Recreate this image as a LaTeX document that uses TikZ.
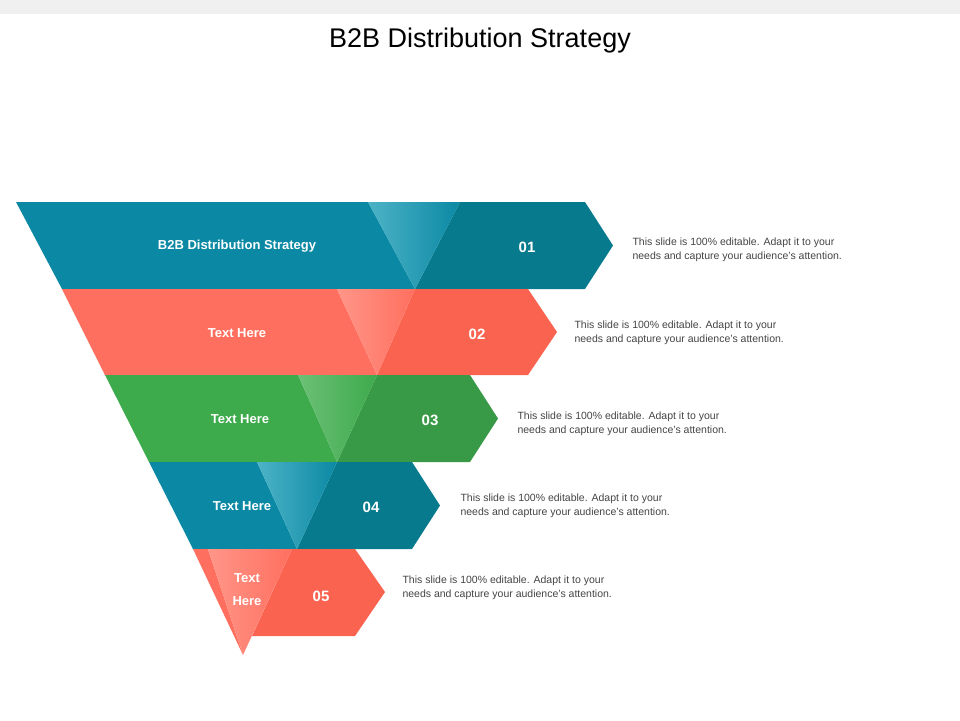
\documentclass[tikz,border=0pt]{standalone}
\usepackage{fontspec}
\setmainfont{Liberation Sans}
\definecolor{tealA}{HTML}{0B89A4}\definecolor{tealB}{HTML}{077A8E}\definecolor{tealC}{HTML}{4DB3C6}
\definecolor{coralA}{HTML}{FF6F5F}\definecolor{coralB}{HTML}{FA6350}\definecolor{coralC}{HTML}{FF9688}
\definecolor{greenA}{HTML}{3DAA4C}\definecolor{greenB}{HTML}{389A46}\definecolor{greenC}{HTML}{6CC076}
\definecolor{descgray}{HTML}{444444}
\tikzset{
  bandlabel/.style={text=white,font=\bfseries\fontsize{13}{15}\selectfont,align=center},
  numlabel/.style={text=white,font=\bfseries\fontsize{15}{17}\selectfont},
  desc/.style={text=descgray,font=\fontsize{10.5}{13.5}\selectfont,align=left,anchor=west}
}
\begin{document}
\begin{tikzpicture}[x=1pt,y=-1pt]
  \useasboundingbox (0,0) rectangle (960,720);
  \fill[gray!12] (0,0) rectangle (960,14);
  \node[font=\fontsize{27}{30}\selectfont] (title) at (480,41) {B2B Distribution Strategy};
  % bands: top, bottom, left top, left bottom, tri left, tri right, apex, arrow end, tip, colours
  \foreach \yt/\yb/\lt/\lb/\tl/\tr/\ax/\ae/\tp/\ca/\cb/\cc in {
      202/289/16/62/368/460/415/585/613/tealA/tealB/tealC,
      289/375/62/105/337/415/377/528/557/coralA/coralB/coralC,
      375/462/105/149/298/377/337/470/498/greenA/greenB/greenC,
      462/549/149/193/257/337/297/412/440/tealA/tealB/tealC}{
    \fill[\ca] (\lt,\yt) -- (\tl,\yt) -- (\ax,\yb) -- (\lb,\yb) -- cycle;
    \fill[\cb] (\tr,\yt) -- (\ae,\yt) -- (\tp,{(\yt+\yb)/2}) -- (\ae,\yb) -- (\ax,\yb) -- cycle;
    \shade[left color=\cc,right color=\ca] (\tl,\yt) -- (\tr,\yt) -- (\ax,\yb) -- cycle;
  }
  \fill[coralA] (193,549) -- (208,549) -- (243,655) -- cycle;
  \fill[coralB] (292,549) -- (355,549) -- (385,592) -- (355,636) -- (252,636) -- cycle;
  \shade[left color=coralC,right color=coralA] (208,549) -- (292,549) -- (243,655) -- cycle;
  % labels
  \node[bandlabel] (l1) at (237,246) {B2B Distribution Strategy};
  \node[bandlabel] (l2) at (237,333) {Text Here};
  \node[bandlabel] (l3) at (240,419) {Text Here};
  \node[bandlabel] (l4) at (242,506) {Text Here};
  \node[bandlabel,font=\bfseries\fontsize{13}{23}\selectfont] (l5) at (247,590) {Text\\Here};
  \node[numlabel] (n1) at (527,247) {01};
  \node[numlabel] (n2) at (477,334) {02};
  \node[numlabel] (n3) at (430,420) {03};
  \node[numlabel] (n4) at (371,507) {04};
  \node[numlabel] (n5) at (321,596) {05};
  \foreach \n/\x/\y in {1/629/250,2/571/333,3/514/424,4/457/506,5/399/588}
    \node[desc] (d\n) at (\x,\y) {This slide is 100\% editable. Adapt it to your\\needs and capture your audience's attention.};
\end{tikzpicture}
\end{document}
